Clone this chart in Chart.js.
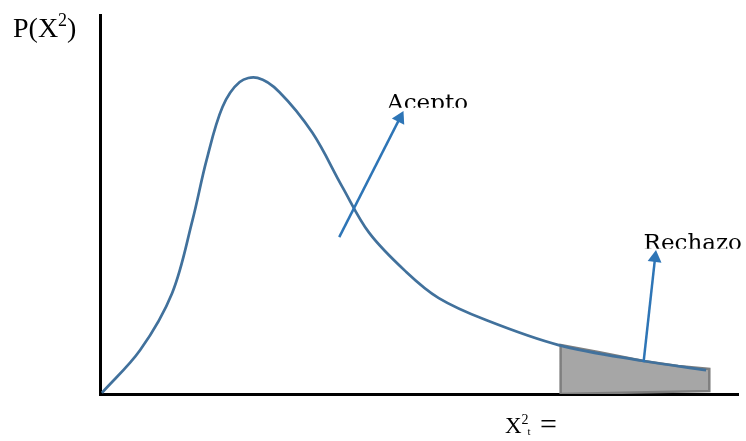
<!DOCTYPE html>
<html>
<head>
<meta charset="utf-8">
<script src="https://cdn.jsdelivr.net/npm/chart.js@4"></script>
<style>
  body { margin: 0; background: #fff; }
  #chart-canvas { display: block; }
</style>
</head>
<body>
<canvas id="chart-canvas" width="746" height="441"></canvas>
<script>
// chi-square sketch: curve, rejection tail, two arrows
let curveX = [0.03, 0.63, 1.13, 1.45, 1.67, 1.92, 2.19, 2.47, 2.81, 3.33, 3.80, 4.22, 4.80, 5.31, 6.05, 7.19, 8.52, 9.50];
let curveY = [0.3, 11.6, 26.6, 45.9, 61.7, 75.7, 82.3, 83.4, 79.7, 68.9, 54.6, 42.5, 32.2, 25.3, 19.5, 12.9, 8.7, 6.3];

// shaded rejection region (closed outline)
let tailX = [7.22, 7.22, 7.81, 8.52, 9.06, 9.55, 9.55, 7.22];
let tailY = [0, 12.9, 11.1, 8.7, 7.4, 6.6, 0.8, 0];

// arrows: start and end
let aceptoArrowX = [3.75, 4.70];
let aceptoArrowY = [41.4, 72.8];
let rechazoArrowX = [8.52, 8.70];
let rechazoArrowY = [8.4, 35.9];

let labelAcepto = "Acepto";
let labelRechazo = "Rechazo";

function zip(xs, ys) {
  return xs.map(function (v, i) {
    return { x: v, y: ys[i] };
  });
}

let textPlugin = {
  id: "texts",
  afterDraw: function (chart) {
    let ctx = chart.ctx;
    let x = chart.scales.x;
    let y = chart.scales.y;
    let area = chart.chartArea;
    ctx.save();
    ctx.fillStyle = "#000";
    ctx.textBaseline = "alphabetic";

    // P(X^2)
    ctx.font = '28px "Liberation Serif"';
    let px = area.left - 87;
    let py = area.top + 22;
    ctx.fillText("P(X", px, py);
    px += ctx.measureText("P(X").width;
    ctx.font = '18px "Liberation Serif"';
    ctx.fillText("2", px, py - 11);
    px += ctx.measureText("2").width;
    ctx.font = '28px "Liberation Serif"';
    ctx.fillText(")", px, py);

    // X^2_t =
    ctx.font = '23px "Liberation Serif"';
    let qx = 505;
    let qy = area.bottom + 39;
    ctx.fillText("X", qx, qy);
    qx += ctx.measureText("X").width;
    ctx.font = '14px "Liberation Serif"';
    ctx.fillText("2", qx, qy - 9);
    ctx.font = '11px "Liberation Serif"';
    ctx.fillText("t", qx + 6, qy + 2);
    ctx.font = '30px "Liberation Serif"';
    ctx.fillText("=", 540, qy + 1);

    // clipped text boxes
    ctx.font = '23px "DejaVu Serif"';
    ctx.save();
    ctx.beginPath();
    ctx.rect(0, 0, chart.width, y.getPixelForValue(75.5));
    ctx.clip();
    ctx.fillText(labelAcepto, x.getPixelForValue(4.5), y.getPixelForValue(74.9));
    ctx.restore();

    ctx.save();
    ctx.beginPath();
    ctx.rect(0, 0, chart.width, y.getPixelForValue(38.3));
    ctx.clip();
    ctx.fillText(labelRechazo, x.getPixelForValue(8.52), y.getPixelForValue(37.9));
    ctx.restore();

    ctx.restore();
  },
};

let chart = document.getElementById("chart-canvas").getContext("2d");

let arrowStyle = {
  showLine: true,
  borderColor: "#2e75b6",
  backgroundColor: "#2e75b6",
  borderWidth: 2.5,
  pointStyle: "triangle",
  pointRadius: [0, 8],
  pointBorderWidth: 0,
  tension: 0,
};

let chart1 = new Chart(chart, {
  type: "scatter",
  data: {
    datasets: [
      {
        data: zip(tailX, tailY),
        showLine: true,
        borderColor: "#7f7f7f",
        backgroundColor: "#a6a6a6",
        borderWidth: 2.5,
        fill: "shape",
        pointRadius: 0,
        tension: 0,
        order: 3,
      },
      {
        data: zip(curveX, curveY),
        showLine: true,
        borderColor: "#41719c",
        borderWidth: 2.7,
        pointRadius: 0,
        tension: 0.35,
        fill: false,
        order: 2,
      },
      Object.assign({}, arrowStyle, {
        data: zip(aceptoArrowX, aceptoArrowY),
        pointRotation: [0, 27],
        order: 1,
      }),
      Object.assign({}, arrowStyle, {
        data: zip(rechazoArrowX, rechazoArrowY),
        pointRotation: [0, 6.6],
        order: 1,
      }),
    ],
  },
  options: {
    responsive: false,
    animation: false,
    devicePixelRatio: 1,
    layout: { padding: { left: 100, top: 15, right: 6, bottom: 47 } },
    plugins: {
      legend: { display: false },
      tooltip: { enabled: false },
    },
    scales: {
      x: {
        type: "linear",
        min: 0,
        max: 10,
        ticks: { display: false },
        grid: { display: false, drawTicks: false },
        border: { display: true, color: "#000", width: 3 },
      },
      y: {
        type: "linear",
        min: 0,
        max: 100,
        ticks: { display: false },
        grid: { display: false, drawTicks: false },
        border: { display: true, color: "#000", width: 3 },
      },
    },
  },
  plugins: [textPlugin],
});
</script>
</body>
</html>
